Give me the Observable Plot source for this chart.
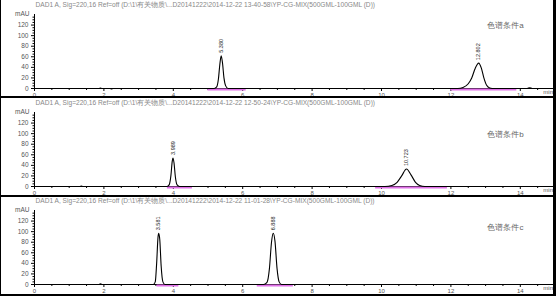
<!DOCTYPE html>
<html><head><meta charset="utf-8">
<script src="https://cdn.jsdelivr.net/npm/d3@7"></script>
<script src="https://cdn.jsdelivr.net/npm/@observablehq/plot@0.6"></script>
<style>
body{margin:0;background:#fff;}
#wrap{position:relative;width:556px;height:296px;overflow:hidden;background:#fff;}
.panel{position:absolute;left:0;width:556px;}
.hline{position:absolute;left:0;width:556px;height:2px;background:#000;}
.vline{position:absolute;top:0;height:296px;background:#000;}
</style></head><body><div id="wrap"></div>
<script>
// ---- data ----
const titles = [
  "DAD1 A, Sig=220,16 Ref=off (D:\\1\\有关物质\\...D20141222\\2014-12-22 13-40-58\\YP-CG-MIX(500GML-100GML (D))",
  "DAD1 A, Sig=220,16 Ref=off (D:\\1\\有关物质\\...D20141222\\2014-12-22 12-50-24\\YP-CG-MIX(500GML-100GML (D))",
  "DAD1 A, Sig=220,16 Ref=off (D:\\1\\有关物质\\...D20141222\\2014-12-22 11-01-28\\YP-CG-MIX(500GML-100GML (D))"
];
const notes = ["色谱条件a", "色谱条件b", "色谱条件c"];
const yTicks = [0, 20, 40, 60, 80, 100, 120];
const yMinor = [5,10,15,25,30,35,45,50,55,65,70,75,85,90,95,105,110,115,125,130,135];
const xTicks = [0, 2, 4, 6, 8, 10, 12, 14];
const xMinor = [0.5,1,1.5,2.5,3,3.5,4.5,5,5.5,6.5,7,7.5,8.5,9,9.5,10.5,11,11.5,12.5,13,13.5,14.5];

// traces: [time (min), signal (mAU)]
const trace1 = [[0,0],[1.86,0],[1.9,1],[1.94,0],[2.18,0],[2.22,-1],[2.26,0],
  [5.18,0],[5.25,3],[5.30,18],[5.34,45],[5.38,62],[5.42,47],[5.46,20],[5.51,5],[5.58,0],
  [12.2,0],[12.35,2],[12.5,9],[12.6,20],[12.7,38],[12.8,48],[12.88,38],[12.95,20],[13.03,6],[13.12,1],[13.25,0],
  [14.2,0],[14.27,1.5],[14.34,0],[14.76,0]];
const trace2 = [[0,0],[1.31,0],[1.35,0.8],[1.39,0],
  [3.82,0],[3.88,3],[3.93,20],[3.97,48],[3.99,54],[4.02,45],[4.06,18],[4.11,3],[4.18,0],
  [10.1,0],[10.3,2],[10.45,8],[10.58,20],[10.72,33],[10.85,22],[10.98,8],[11.1,2],[11.25,0],
  [13.4,0]];
const trace3 = [[0,0],[1.85,0],[1.9,1.5],[1.96,0],
  [3.42,0],[3.48,5],[3.52,40],[3.56,90],[3.58,97],[3.61,85],[3.65,35],[3.70,5],[3.76,0],
  [6.6,0],[6.7,4],[6.77,30],[6.83,80],[6.88,97],[6.93,82],[6.99,30],[7.05,5],[7.12,0],
  [14.9,0]];

const peakTimes = [[5.38, 12.8], [3.99, 10.72], [3.58, 6.88]];
const peakHeights = [[62, 48], [54, 33], [97, 97]];
const peakLabels = [["5.380", "12.802"], ["3.989", "10.723"], ["3.581", "6.888"]];

// integration baselines [start, end] (min)
const ints1 = [[5.0, 6.1], [12.0, 13.9]];
const ints2 = [[3.83, 4.55], [9.83, 11.9]];
const ints3 = [[3.53, 4.16], [6.42, 7.46]];

const traces = [trace1, trace2, trace3];
const ints = [ints1, ints2, ints3];
const noteY = [120, 98, 108];
const tops = [-1, 97, 195];

const font = "'Liberation Sans', Arial, sans-serif";
const wrap = document.getElementById("wrap");

for (let i = 0; i < 3; i++) {
  const pts = traces[i].map(([t, v]) => ({t, v}));
  const peaks = peakTimes[i].map((t, j) => ({t, h: peakHeights[i][j], label: peakLabels[i][j]}));
  const chart = Plot.plot({
    width: 556, height: 99,
    marginLeft: 34, marginRight: 1.5, marginTop: 15, marginBottom: 10,
    x: {domain: [0, 15]},
    y: {domain: [0, 140]},
    style: {fontFamily: font, background: "transparent", overflow: "visible"},
    marks: [
      Plot.axisY({ticks: yMinor, tickSize: 1.5, tickFormat: () => "", label: null, stroke: "#000"}),
      Plot.axisY({ticks: yTicks, tickSize: 3, tickPadding: 3, fontSize: 6.5, fill: "#555", label: null, stroke: "#000"}),
      Plot.axisX({ticks: xMinor, tickSize: 2, tickFormat: () => "", label: null, stroke: "#000"}),
      Plot.axisX({ticks: xTicks, tickSize: 3, tickPadding: 1, fontSize: 6, fill: "#555", label: null, stroke: "#000"}),
      Plot.ruleX([0], {stroke: "#000"}),
      Plot.ruleY([0], {stroke: "#000", strokeWidth: 1}),
      Plot.ruleY(ints[i], {y: 0, x1: d => d[0], x2: d => d[1], stroke: "#e070e8", strokeWidth: 2, dy: 1}),
      Plot.line(pts, {x: "t", y: "v", curve: "monotone-x", stroke: "#000", strokeWidth: 1.1}),
      Plot.text(peaks, {x: "t", y: "h", text: "label", rotate: -90, textAnchor: "start", dy: -3, fontSize: 5.5, fill: "#222"}),
      Plot.text(["mAU"], {frameAnchor: "top-left", dx: -5, dy: -3, textAnchor: "end", fontSize: 6.5, fill: "#555"}),
      Plot.text(["min"], {frameAnchor: "bottom-right", dx: -2, dy: 5, textAnchor: "end", fontSize: 6, fill: "#555"}),
      Plot.text([titles[i]], {frameAnchor: "top-left", dx: 1, dy: -12, textAnchor: "start", fontSize: 6.6, fill: "#888"}),
      Plot.text([notes[i]], {x: 13.57, y: noteY[i], fontSize: 8, fill: "#666", letterSpacing: "0.6px"})
    ]
  });
  const div = document.createElement("div");
  div.className = "panel";
  div.style.top = tops[i] + "px";
  div.appendChild(chart);
  wrap.appendChild(div);
}
// frame lines between panels
[[96], [195], [294]].forEach(([y]) => {
  const l = document.createElement("div");
  l.className = "hline"; l.style.top = y + "px"; wrap.appendChild(l);
});
const lv = document.createElement("div");
lv.className = "vline"; lv.style.left = "0px"; lv.style.width = "1px"; wrap.appendChild(lv);
const rv = document.createElement("div");
rv.className = "vline"; rv.style.left = "553px"; rv.style.width = "3px"; wrap.appendChild(rv);
</script>
</body></html>
